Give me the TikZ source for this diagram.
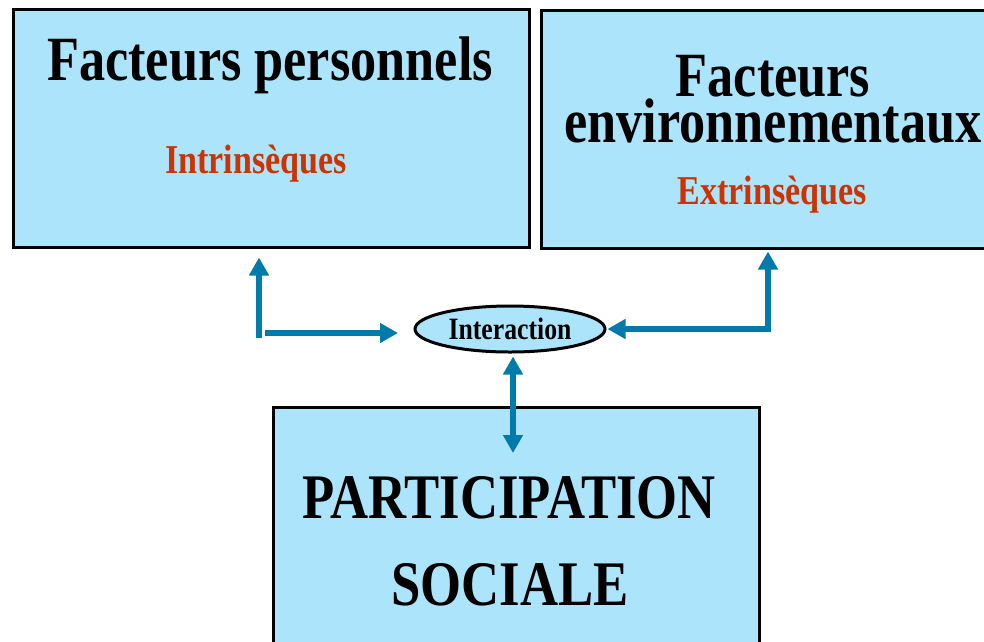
\documentclass[tikz,border=0pt]{standalone}
\usepackage{fontspec}
\newfontfamily\cond{Liberation Serif}[FakeStretch=0.83]
\usetikzlibrary{shapes.geometric,arrows.meta,calc}
\definecolor{boxfill}{RGB}{172,228,252}
\definecolor{arrcol}{RGB}{0,122,170}
\definecolor{subred}{RGB}{204,51,0}
\begin{document}
\begin{tikzpicture}[x=1pt,y=-1pt,
  box/.style={draw=black,line width=3pt,fill=boxfill,rectangle,inner sep=0pt},
  title/.style={anchor=base,inner sep=0pt,font=\cond\bfseries\fontsize{63}{63}\selectfont},
  sub/.style={anchor=base,inner sep=0pt,text=subred,font=\cond\bfseries\fontsize{41}{41}\selectfont},
  big/.style={anchor=base,inner sep=0pt,font=\cond\bfseries\fontsize{63.5}{63.5}\selectfont},
  arr/.style={draw=arrcol,line width=5.5pt,arrows={-Triangle[width=19pt,length=18pt]}},
  arrb/.style={draw=arrcol,line width=5.5pt,arrows={Triangle[width=19pt,length=18pt]-Triangle[width=19pt,length=18pt]}}]
\useasboundingbox (0,0) rectangle (984,641);
\clip (0,0) rectangle (984,641);
\fill[white] (0,0) rectangle (984,641);
% boxes
\node[box,minimum width=516pt,minimum height=238pt] (b1) at (271,128) {};
\node[box,minimum width=454pt,minimum height=238pt] (b2) at (768,129) {};
\node[box,minimum width=486pt,minimum height=253pt] (b3) at (516,533.5) {};
% texts
\node[title] (t1) at (270,80) {Facteurs personnels};
\node[sub] (s1) at (256,173) {Intrinsèques};
\node[title,align=center,font=\cond\bfseries\fontsize{63}{42}\selectfont] (t2) at (773,142) {Facteurs\\environnementaux};
\node[sub] (s2) at (772,204) {Extrinsèques};
\node[big] (p1) at (509,518) {PARTICIPATION};
\node[big] (p2) at (510,605) {SOCIALE};
% ellipse
\node[ellipse,draw=black,line width=3pt,fill=boxfill,minimum width=190pt,minimum height=46pt,inner sep=0pt,
      font=\cond\bfseries\fontsize{31}{31}\selectfont] (ell) at (510,329) {Interaction};
% connectors
\coordinate (l1) at (259,338);
\coordinate (l2) at (265,333);
\coordinate (l3) at (398,333);
\coordinate (v) at (513,453);
\draw[arr] (l1) -- ($(l1 |- b1.south)+(0,9)$);
\draw[arr] (l2) -- (l3);
\draw[arrb] ([xshift=1pt]ell.east) -| ($(b2.south)+(0,2)$);
\draw[arrb] ($(ell.south -| v)+(0,3)$) -- (v);
\end{tikzpicture}
\end{document}
